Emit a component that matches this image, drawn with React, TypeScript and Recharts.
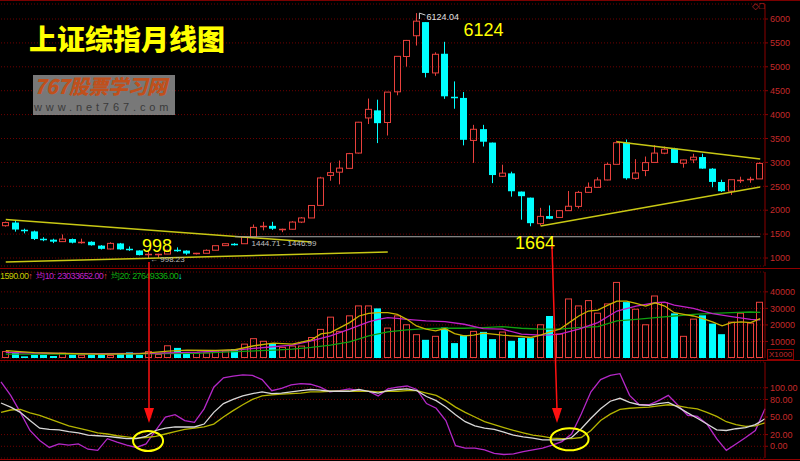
import React from 'react';
import {
  ComposedChart,
  Bar,
  Line,
  XAxis,
  YAxis,
  CartesianGrid,
  ReferenceLine,
  ReferenceDot,
} from 'recharts';

// monthly candles, 2004-03 .. 2010-10
const months = Array.from({ length: 80 }, (_, i) => {
  const t = 2004 * 12 + 2 + i;
  return `${Math.floor(t / 12)}-${String((t % 12) + 1).padStart(2, '0')}`;
});

const open = [
  1676, 1742, 1585, 1557, 1399, 1384, 1343, 1397, 1320, 1340,
  1260, 1189, 1305, 1180, 1158, 1060, 1081, 1083, 1163, 1155, 1091, 1099,
  1163, 1259, 1300, 1299, 1442, 1643, 1673, 1598, 1602, 1752, 1838, 2101,
  2728, 2796, 2876, 3196, 3930, 4089, 3835, 4477, 5216, 5650, 5935, 4872,
  5273, 4370, 4349, 3460, 3696, 3415, 2710, 2771, 2390, 2263, 1719, 1877,
  1849, 1991, 2080, 2374, 2478, 2633, 2960, 3418, 2667, 2830, 3000, 3193,
  3289, 2983, 3054, 3112, 2869, 2590, 2399, 2636, 2637, 2655,
];
const high = [
  1762, 1783, 1614, 1574, 1435, 1404, 1493, 1408, 1405, 1350,
  1270, 1329, 1316, 1242, 1160, 1147, 1090, 1173, 1223, 1160, 1107, 1180,
  1260, 1306, 1311, 1445, 1701, 1757, 1758, 1614, 1771, 1857, 2104, 2699,
  2994, 3040, 3199, 3848, 4336, 4312, 4472, 5219, 5562, 6124, 5935, 5303,
  5523, 4695, 4472, 3786, 3786, 3415, 2952, 2806, 2390, 2264, 2050, 2100,
  2001, 2402, 2404, 2580, 2689, 2998, 3454, 3478, 3068, 3123, 3361, 3332,
  3306, 3060, 3181, 3182, 2880, 2638, 2638, 2701, 2699, 3002,
];
const low = [
  1656, 1552, 1516, 1376, 1352, 1312, 1336, 1306, 1300, 1259,
  1178, 1180, 1173, 1150, 1055, 998, 1004, 1080, 1130, 1067, 1074, 1098,
  1160, 1256, 1262, 1297, 1442, 1579, 1588, 1541, 1593, 1731, 1838, 2101,
  2617, 2541, 2876, 3186, 3803, 3404, 3563, 4404, 5003, 5445, 4778, 4812,
  4330, 4123, 3357, 2991, 3333, 2567, 2695, 2284, 1802, 1664, 1678, 1814,
  1844, 1991, 2037, 2365, 2473, 2625, 2960, 2639, 2639, 2712, 3000, 3172,
  2986, 2890, 2985, 2867, 2481, 2382, 2320, 2570, 2573, 2655,
];
const close = [
  1742, 1596, 1556, 1399, 1386, 1342, 1397, 1321, 1341, 1267,
  1192, 1306, 1181, 1159, 1061, 1081, 1083, 1163, 1156, 1093, 1099, 1161,
  1258, 1299, 1298, 1440, 1641, 1672, 1613, 1601, 1752, 1838, 2099, 2675,
  2786, 2881, 3184, 3841, 4110, 3821, 4471, 5219, 5552, 5955, 4872, 5262,
  4383, 4349, 3473, 3693, 3433, 2736, 2776, 2397, 2294, 1729, 1871, 1821,
  1991, 2083, 2373, 2478, 2633, 2959, 3412, 2668, 2779, 2996, 3195, 3277,
  2989, 3052, 3109, 2871, 2592, 2398, 2638, 2639, 2656, 2979,
];

// volume, x1000
const volume = [
  4200, 3000, 1000, 1800, 1800, 1200, 3200, 1800, 2000, 1800,
  1800, 1800, 3000, 3400, 1800, 4200, 2400, 7700, 6100, 2500, 3400, 3400,
  4500, 4500, 5400, 8700, 12000, 10400, 9000, 6700, 7500, 7500, 12700, 17600,
  25000, 16400, 25800, 31800, 31800, 30000, 18400, 25800, 20400, 14400, 11000, 13400,
  18400, 9000, 13800, 16400, 15800, 11400, 16000, 10400, 12200, 12000, 20400, 25400,
  14800, 36000, 31800, 35000, 27400, 33000, 46000, 33800, 29800, 20400, 37800, 33800,
  27000, 13400, 23800, 25800, 20800, 14400, 22000, 27400, 21400, 34000,
];

// volume averages at a few months: [month index, value]
const volMa5: [number, number][] = [
  [0, 4400], [3, 3200], [6, 2800], [10, 2400], [14, 2600], [17, 4200], [19, 4800],
  [22, 4600], [24, 5000], [26, 7400], [28, 9000], [30, 8400], [32, 11000], [33, 14600],
  [34, 15400], [35, 18400], [36, 21400], [37, 25400], [38, 27000], [39, 27400], [40, 27400],
  [41, 26400], [42, 23400], [43, 19400], [44, 17400], [45, 16400], [46, 17800], [47, 14800],
  [48, 13400], [49, 13800], [50, 15000], [51, 14400], [52, 13800], [53, 13400], [54, 13000],
  [55, 12400], [56, 13800], [57, 15800], [58, 17400], [59, 21400], [60, 25400], [61, 28400],
  [62, 29000], [63, 31800], [64, 34400], [65, 34400], [66, 33000], [67, 31400], [68, 33400],
  [69, 31400], [70, 27400], [71, 26400], [72, 25400], [73, 23800], [74, 21800], [75, 19400],
  [76, 21400], [77, 21800], [78, 21400], [79, 23800],
];
const volMa10: [number, number][] = [
  [0, 3400], [5, 2800], [10, 2600], [15, 2800], [20, 3600], [24, 4800], [26, 5800],
  [28, 6800], [30, 7800], [32, 10400], [34, 13400], [36, 17400], [38, 21800], [39, 23400],
  [40, 24400], [41, 24000], [42, 23400], [44, 22400], [46, 22000], [48, 20400], [50, 17800],
  [52, 17400], [54, 14400], [56, 13800], [57, 14000], [58, 14400], [60, 17400], [62, 21400],
  [64, 28400], [66, 31400], [68, 33400], [69, 33800], [70, 32000], [72, 30000], [74, 26800],
  [76, 25000], [78, 23400], [79, 23000],
];
const volMa20: [number, number][] = [
  [0, 2400], [10, 2400], [20, 2800], [24, 3800], [28, 4800], [30, 5400], [32, 6400],
  [34, 7800], [36, 9800], [38, 13400], [40, 15800], [42, 17000], [44, 17800], [46, 18000],
  [48, 18000], [50, 18400], [52, 19000], [54, 18000], [56, 17400], [58, 17400], [60, 18400],
  [62, 19000], [64, 22400], [66, 23400], [68, 24400], [70, 25400], [72, 26400], [74, 27000],
  [76, 27400], [78, 27800], [79, 27600],
];

// KDJ
const kLine = [
  74, 67, 58, 44, 31, 29, 28, 25, 23, 19, 18, 17, 15, 13, 13, 17, 27, 31, 33, 33,
  33, 38, 58, 73, 80, 86, 90, 93, 90, 91, 93, 95, 97, 96, 94, 94, 94, 97, 94, 91,
  95, 97, 98, 95, 85, 78, 67, 54, 42, 35, 31, 29, 24, 19, 16, 14, 11, 11, 11, 15,
  30, 48, 64, 77, 82, 75, 71, 70, 73, 75, 67, 57, 48, 38, 28, 27, 30, 32, 37, 47,
];
const dLine = [
  58, 62, 63, 57, 53, 47, 41, 35, 31, 27, 23, 21, 18, 16, 14, 15, 17, 21, 25, 29,
  31, 33, 38, 50, 61, 71, 80, 86, 88, 89, 90, 91, 93, 93, 94, 94, 94, 94, 94, 93,
  94, 94, 95, 95, 91, 87, 78, 67, 58, 50, 42, 37, 32, 27, 23, 19, 17, 14, 13, 13,
  15, 27, 44, 55, 63, 65, 66, 67, 69, 71, 69, 66, 64, 58, 51, 42, 37, 34, 35, 40,
];
const jLine = [
  110, 87, 58, 27, 10, -2, 4, 2, 4, -5, -7, 13, 7, 2, -2, 4, 27, 50, 54, 44,
  41, 64, 101, 117, 120, 122, 121, 114, 95, 99, 105, 107, 106, 101, 93, 95, 98, 95, 94, 86,
  98, 101, 103, 97, 73, 65, 44, 1, -3, -3, -6, -12, -14, -13, -9, -6, -3, 2, 8, 21,
  55, 93, 114, 121, 124, 87, 71, 71, 78, 87, 70, 53, 51, 38, 13, -7, 4, 15, 27, 64,
];

// hand-drawn trend lines: [from month, to month, price at start, price at end]
const trendLines: [number, number, number, number][] = [
  [0, 32, 1807, 1334],
  [0, 40, 919, 1126],
  [64, 79, 3430, 3072],
  [56, 79, 1669, 2485],
];

const priceTicks = [1000, 1500, 2000, 2500, 3000, 3500, 4000, 4500, 5000, 5500, 6000];
const volTicks = [10000, 20000, 30000, 40000];
const kdjTicks = [0, 20, 50, 80, 100];

const toSeries = (pts: [number, number][]) => {
  const out: (number | null)[] = months.map(() => null);
  pts.forEach(([i, v]) => (out[i] = v));
  return out;
};
const ma5 = toSeries(volMa5);
const ma10 = toSeries(volMa10);
const ma20 = toSeries(volMa20);

const data = months.map((m, i) => ({
  m,
  open: open[i],
  high: high[i],
  low: low[i],
  close: close[i],
  vol: volume[i],
  ma5: ma5[i],
  ma10: ma10[i],
  ma20: ma20[i],
  k: kLine[i],
  d: dLine[i],
  j: jLine[i],
}));

const RED = '#e8403c';
const CYAN = '#00ffff';
const AX = '#c42a2a';
const AXLINE = '#8c0000';
const GRID = '#6e0000';
const YEL = '#ffff00';
const MARGIN = { top: 4, right: 0, bottom: 2, left: 1 };

const CandleShape = (props: any) => {
  const { x, y, width, height, payload } = props;
  if (!payload || height == null) return null;
  const top = Math.min(y, y + height);
  const bot = Math.max(y, y + height);
  const span = payload.high - payload.low || 1;
  const py = (v: number) => bot - ((v - payload.low) / span) * (bot - top);
  const up = payload.close >= payload.open;
  const color = up ? RED : CYAN;
  const left = Math.round(x);
  const w = Math.round(width);
  const cx = left + Math.floor(w / 2) + 0.5;
  const yo = py(payload.open);
  const yc = py(payload.close);
  const bt = Math.min(yo, yc);
  const bb = Math.max(yo, yc);
  if (bb - bt < 1.5) {
    const yy = Math.round(bt) + 0.5;
    return (
      <g>
        <line x1={cx} x2={cx} y1={top} y2={bot} stroke={color} />
        <line x1={left} x2={left + w} y1={yy} y2={yy} stroke={color} strokeWidth={1.5} />
      </g>
    );
  }
  if (up) {
    return (
      <g>
        <line x1={cx} x2={cx} y1={top} y2={bt} stroke={color} />
        <line x1={cx} x2={cx} y1={bb} y2={bot} stroke={color} />
        <rect x={left + 0.5} y={bt} width={w - 1} height={bb - bt} fill="none" stroke={color} />
      </g>
    );
  }
  return (
    <g>
      <line x1={cx} x2={cx} y1={top} y2={bot} stroke={color} />
      <rect x={left} y={bt} width={w} height={bb - bt} fill={color} />
    </g>
  );
};

const VolShape = (props: any) => {
  const { x, y, width, height, payload } = props;
  if (!payload || !height) return null;
  const left = Math.round(x);
  const w = Math.round(width);
  if (payload.close >= payload.open) {
    return (
      <rect x={left + 0.5} y={y + 0.5} width={w - 1} height={height - 1} fill="none" stroke={RED} />
    );
  }
  return <rect x={left} y={y} width={w} height={height} fill={CYAN} />;
};

const axisProps = {
  orientation: 'right' as const,
  width: 35,
  tick: { fill: AX, fontSize: 9 },
  axisLine: { stroke: AXLINE },
  tickLine: { stroke: AXLINE },
  tickSize: 3,
  interval: 0 as const,
  allowDataOverflow: true,
};

const Note = ({ cx, cy, text, dx, dy, size, color }: any) => (
  <text x={cx + dx} y={cy + dy} fill={color} fontSize={size} fontFamily="Liberation Sans, Arial, sans-serif">
    {text}
  </text>
);

const Ellipse = ({ cx, cy, rx, ry }: any) => (
  <ellipse cx={cx} cy={cy} rx={rx} ry={ry} fill="none" stroke={YEL} strokeWidth={2} />
);

export default function App() {
  return (
    <div
      style={{
        position: 'absolute',
        left: 0,
        top: 0,
        width: 800,
        height: 461,
        background: '#000',
        overflow: 'hidden',
        fontFamily: 'Liberation Sans, Arial, sans-serif',
      }}
    >
      {/* price panel */}
      <div style={{ position: 'absolute', left: 0, top: 0 }}>
        <ComposedChart width={800} height={268} data={data} margin={MARGIN} barSize={7}>
          <CartesianGrid vertical={false} stroke={GRID} strokeDasharray="1 2" />
          <XAxis dataKey="m" hide />
          <YAxis {...axisProps} domain={[833, 6314]} ticks={priceTicks} />
          {trendLines.map(([a, b, p0, p1], n) => (
            <ReferenceLine
              key={n}
              segment={[{ x: months[a], y: p0 }, { x: months[b], y: p1 }]}
              stroke="#c8c814"
              strokeWidth={1.5}
            />
          ))}
          <ReferenceLine
            segment={[{ x: months[24], y: 1445 }, { x: months[79], y: 1445 }]}
            stroke="#a8a8a8"
          />
          <Bar
            dataKey={(d: any) => [d.low, d.high]}
            shape={<CandleShape />}
            isAnimationActive={false}
          />
          <ReferenceDot
            x={months[43]}
            y={6124}
            r={0}
            shape={(p: any) => (
              <g>
                <polyline
                  points={`${p.cx + 3},${p.cy + 6} ${p.cx + 3},${p.cy} ${p.cx + 9},${p.cy + 2}`}
                  fill="none"
                  stroke="#d0d0d0"
                />
                <Note cx={p.cx} cy={p.cy} text="6124.04" dx={10} dy={7} size={9} color="#e0e0e0" />
                <Note cx={p.cx} cy={p.cy} text="6124" dx={47} dy={23} size={18} color={YEL} />
              </g>
            )}
          />
          <ReferenceDot
            x={months[15]}
            y={998}
            r={0}
            shape={(p: any) => (
              <g>
                <Note cx={p.cx} cy={p.cy} text="998" dx={-7} dy={-6} size={18} color={YEL} />
                <Note cx={p.cx} cy={p.cy} text="← 998.23" dx={1} dy={4} size={8} color="#b8b8b8" />
              </g>
            )}
          />
          <ReferenceDot
            x={months[55]}
            y={1664}
            r={0}
            shape={(p: any) => <Note cx={p.cx} cy={p.cy} text="1664" dx={-16} dy={23} size={18} color={YEL} />}
          />
          <ReferenceDot
            x={months[25]}
            y={1445}
            r={0}
            shape={(p: any) => (
              <Note cx={p.cx} cy={p.cy} text="1444.71 - 1446.99" dx={7} dy={9} size={8} color="#c0c0c0" />
            )}
          />
        </ComposedChart>
      </div>

      {/* volume panel */}
      <div style={{ position: 'absolute', left: 0, top: 268 }}>
        <ComposedChart width={800} height={92} data={data} margin={MARGIN} barSize={7}>
          <CartesianGrid vertical={false} stroke={GRID} strokeDasharray="1 2" />
          <XAxis dataKey="m" hide />
          <YAxis {...axisProps} domain={[0, 52000]} ticks={volTicks} />
          <Bar dataKey="vol" shape={<VolShape />} isAnimationActive={false} />
          <Line dataKey="ma20" stroke="#10a010" strokeWidth={1.3} dot={false} connectNulls isAnimationActive={false} />
          <Line dataKey="ma10" stroke="#c020c8" strokeWidth={1.3} dot={false} connectNulls isAnimationActive={false} />
          <Line dataKey="ma5" stroke="#c8b400" strokeWidth={1.3} dot={false} connectNulls isAnimationActive={false} />
        </ComposedChart>
      </div>

      {/* KDJ panel */}
      <div style={{ position: 'absolute', left: 0, top: 360 }}>
        <ComposedChart width={800} height={101} data={data} margin={{ top: 2, right: 0, bottom: 3, left: 1 }}>
          <CartesianGrid vertical={false} stroke={GRID} strokeDasharray="1 2" />
          <XAxis dataKey="m" hide />
          <YAxis
            {...axisProps}
            domain={[-20, 144]}
            ticks={kdjTicks}
            tickFormatter={(v: number) => v.toFixed(2)}
          />
          <Line dataKey="j" stroke="#b428c8" strokeWidth={1.3} dot={false} isAnimationActive={false} />
          <Line dataKey="d" stroke="#b4b400" strokeWidth={1.3} dot={false} isAnimationActive={false} />
          <Line dataKey="k" stroke="#d8d8d8" strokeWidth={1.3} dot={false} isAnimationActive={false} />
          <ReferenceDot x={months[15]} y={9} r={0} shape={(p: any) => <Ellipse cx={p.cx + 2} cy={p.cy} rx={15} ry={10} />} />
          <ReferenceDot x={months[59]} y={12} r={0} shape={(p: any) => <Ellipse cx={p.cx - 2} cy={p.cy} rx={19} ry={11} />} />
        </ComposedChart>
      </div>

      {/* panel separators */}
      <div style={{ position: 'absolute', left: 0, top: 0, width: 800, height: 1, background: '#7a0000' }} />
      <div style={{ position: 'absolute', left: 0, top: 268, width: 800, height: 1, background: '#900000' }} />
      <div style={{ position: 'absolute', left: 0, top: 360, width: 800, height: 1, background: '#900000' }} />
      <div style={{ position: 'absolute', left: 0, top: 459, width: 800, height: 1, background: '#900000' }} />

      {/* volume legend */}
      <div
        style={{
          position: 'absolute',
          left: 0,
          top: 271,
          fontSize: 9,
          letterSpacing: -0.6,
          whiteSpace: 'nowrap',
          lineHeight: '10px',
        }}
      >
        <span style={{ color: '#c8c800' }}>1590.00</span>
        <span style={{ color: RED }}>↑</span>
        <span style={{ color: '#c020c8', marginLeft: 4 }}>均10: 23033652.00</span>
        <span style={{ color: RED }}>↑</span>
        <span style={{ color: '#10b010', marginLeft: 4 }}>均20: 27649336.00</span>
        <span style={{ color: CYAN }}>↓</span>
      </div>

      {/* X1000 box */}
      <div
        style={{
          position: 'absolute',
          left: 767,
          top: 349,
          fontSize: 8,
          color: AX,
          border: `1px solid ${AXLINE}`,
          padding: '0 1px',
          lineHeight: '9px',
        }}
      >
        X1000
      </div>
      <div style={{ position: 'absolute', left: 752, top: 1, fontSize: 9, color: AX }}>◇□</div>

      {/* title */}
      <div
        style={{
          position: 'absolute',
          left: 29,
          top: 20,
          fontSize: 28,
          fontWeight: 900,
          color: YEL,
          fontFamily: '"Noto Sans CJK SC", sans-serif',
          lineHeight: '36px',
          letterSpacing: 0,
        }}
      >
        上证综指月线图
      </div>

      {/* watermark */}
      <div
        style={{
          position: 'absolute',
          left: 33,
          top: 75,
          width: 142,
          height: 40,
          background: 'rgba(150,150,150,0.8)',
        }}
      >
        <div
          style={{
            position: 'absolute',
            left: 1,
            top: -1,
            fontSize: 20,
            fontWeight: 900,
            fontStyle: 'italic',
            color: '#c0501c',
            fontFamily: '"Noto Sans CJK SC", sans-serif',
            lineHeight: '24px',
            letterSpacing: -0.5,
            whiteSpace: 'nowrap',
          }}
        >
          767股票学习网
        </div>
        <div
          style={{
            position: 'absolute',
            left: 1,
            top: 25,
            fontSize: 11,
            color: '#3a3a3a',
            letterSpacing: 3.9,
            lineHeight: '14px',
            whiteSpace: 'nowrap',
          }}
        >
          www.net767.com
        </div>
      </div>

      {/* red arrows */}
      <svg width={800} height={461} style={{ position: 'absolute', left: 0, top: 0, pointerEvents: 'none' }}>
        <line x1={149} y1={262} x2={149} y2={410} stroke="#ff1010" strokeWidth={1.5} />
        <polygon points="144,408 154,408 149,423" fill="#ff1010" />
        <line x1={552} y1={246} x2={557} y2={410} stroke="#ff1010" strokeWidth={1.5} />
        <polygon points="552,408 562,408 557,423" fill="#ff1010" />
      </svg>
    </div>
  );
}
